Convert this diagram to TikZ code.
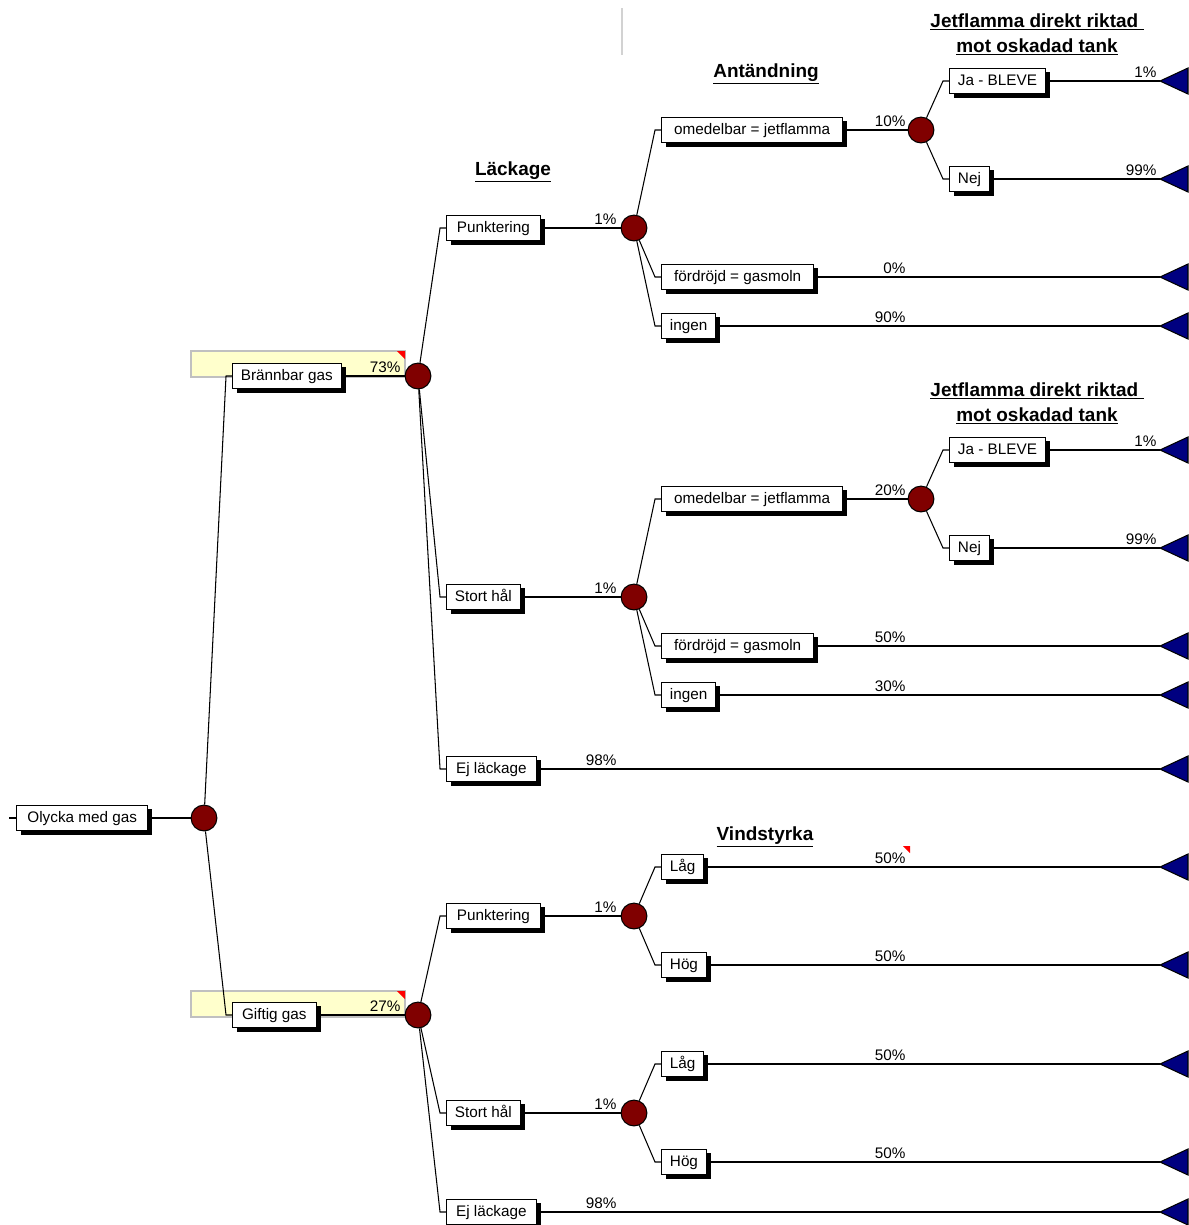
\documentclass[tikz,border=0pt]{standalone}
\usepackage{fontspec}
\setmainfont{Liberation Sans}
\usetikzlibrary{shadows}
\definecolor{chancered}{RGB}{128,0,0}
\definecolor{termblue}{RGB}{0,0,128}
\definecolor{notebar}{RGB}{255,255,204}
\definecolor{notegray}{RGB}{192,192,192}

\begin{document}
\begin{tikzpicture}[x=0.02cm,y=-0.02cm,line width=0.6pt,line join=miter,
  box/.style={draw,fill=white,anchor=west,font=\fontsize{8.7}{10}\selectfont,inner xsep=4.8pt,inner ysep=0pt,minimum height=14.7pt,text height=6.4pt,text depth=1.8pt,drop shadow={shadow xshift=2.5pt,shadow yshift=-2.5pt,fill=black,opacity=1}},
  chance/.style={circle,draw,fill=chancered,minimum size=14.7pt,inner sep=0pt},
  prob/.style={anchor=base east,inner sep=0pt,font=\fontsize{8.7}{10}\selectfont},
  head/.style={anchor=base,inner sep=0pt,font=\fontsize{10.8}{12}\selectfont\bfseries},
  term/.style={draw,fill=termblue},
  note/.style={draw=notegray,fill=notebar,line width=1pt},
  flag/.style={fill=red}]
\useasboundingbox (0,0) rectangle (1188,1225);
%\draw[gray] (0,0) grid[step=100] (1188,1225);
\draw[gray!35,line width=1.2pt] (622,8) -- (622,55);
% highlighted branches
\draw[note] (191,351) rectangle (405,377);
\fill[flag] (397,351) -- (405,351) -- (405,359) -- cycle;
\draw[note] (191,991) rectangle (405,1017);
\fill[flag] (397,991) -- (405,991) -- (405,999) -- cycle;
\fill[flag] (903,846) -- (910,846) -- (910,853) -- cycle;

% headings
\node[head] (lack) at (513,175) {\underline{Läckage}};
\node[head] (antand) at (766,77) {\underline{Antändning}};
\node[head] (jet1a) at (1037,27) {\underline{Jetflamma direkt riktad\ }};
\node[head] (jet1b) at (1037,52) {\underline{mot oskadad tank}};
\node[head] (jet2a) at (1037,396) {\underline{Jetflamma direkt riktad\ }};
\node[head] (jet2b) at (1037,421) {\underline{mot oskadad tank}};
\node[head] (vind) at (765,840) {\underline{Vindstyrka}};

% root
\coordinate (start) at (9,818);
\node[box,minimum width=74.8pt] (olycka) at (16,818) {Olycka med gas};
\node[chance] (r0) at (204,818) {};
\draw (start) -- (olycka);
\draw (olycka) -- (r0);

% gas
\node[box] (bran) at (232,376) {Brännbar gas};
\node[box,minimum width=47.6pt] (gift) at (232,1015) {Giftig gas};
\node[chance] (c1) at (418,376) {};
\node[chance] (c2) at (418,1015) {};
\draw (r0) -- ([xshift=-3.4pt]bran.west) -- (bran.west);
\draw (r0) -- ([xshift=-3.4pt]gift.west) -- (gift.west);
\draw (bran) -- (c1);
\draw (gift) -- (c2);
\node[prob] (p1) at (401,372) {73\%};
\node[prob] (p2) at (401,1011) {27\%};

% brannbar gas
\node[box,minimum width=53.3pt] (punk1) at (446,228) {Punktering};
\node[box] (hal1) at (446,597) {Stort hål};
\node[box,minimum width=51pt] (ej1) at (446,769) {Ej läckage};
\node[chance] (c11) at (634,228) {};
\node[chance] (c12) at (634,597) {};
\coordinate (t1) at (1160,769);
\draw (c1) -- ([xshift=-3.4pt]punk1.west) -- (punk1.west);
\draw (c1) -- ([xshift=-3.4pt]hal1.west) -- (hal1.west);
\draw (c1) -- ([xshift=-3.4pt]ej1.west) -- (ej1.west);
\draw (punk1) -- (c11);
\draw (hal1) -- (c12);
\draw (ej1) -- (t1);
\node[prob] (p11) at (617,224) {1\%};
\node[prob] (p12) at (617,593) {1\%};
\node[prob] (p13) at (617,765) {98\%};

% punktering
\node[box,minimum width=103.2pt] (omed1) at (661,130) {omedelbar = jetflamma};
\node[box,minimum width=86.7pt] (ford1) at (661,277) {fördröjd = gasmoln};
\node[box] (ingen1) at (661,326) {ingen};
\node[chance] (c111) at (921,130) {};
\coordinate (t2) at (1160,277);
\coordinate (t3) at (1160,326);
\draw (c11) -- ([xshift=-3.4pt]omed1.west) -- (omed1.west);
\draw (c11) -- ([xshift=-3.4pt]ford1.west) -- (ford1.west);
\draw (c11) -- ([xshift=-3.4pt]ingen1.west) -- (ingen1.west);
\draw (omed1) -- (c111);
\draw (ford1) -- (t2);
\draw (ingen1) -- (t3);
\node[prob] (p111) at (906,126) {10\%};
\node[prob] (p112) at (906,273) {0\%};
\node[prob] (p113) at (906,322) {90\%};
\draw[line width=1.2pt] ([xshift=1pt]p113.east |- ingen1) -- (t3);

\node[box] (ja1) at (949,81) {Ja - BLEVE};
\node[box] (nej1) at (949,179) {Nej};
\coordinate (t4) at (1160,81);
\coordinate (t5) at (1160,179);
\draw (c111) -- ([xshift=-3.4pt]ja1.west) -- (ja1.west);
\draw (c111) -- ([xshift=-3.4pt]nej1.west) -- (nej1.west);
\draw (ja1) -- (t4);
\draw (nej1) -- (t5);
\node[prob] (p1111) at (1157,77) {1\%};
\node[prob] (p1112) at (1157,175) {99\%};

% stort hal
\node[box,minimum width=103.2pt] (omed2) at (661,499) {omedelbar = jetflamma};
\node[box,minimum width=86.7pt] (ford2) at (661,646) {fördröjd = gasmoln};
\node[box] (ingen2) at (661,695) {ingen};
\node[chance] (c121) at (921,499) {};
\coordinate (t6) at (1160,646);
\coordinate (t7) at (1160,695);
\draw (c12) -- ([xshift=-3.4pt]omed2.west) -- (omed2.west);
\draw (c12) -- ([xshift=-3.4pt]ford2.west) -- (ford2.west);
\draw (c12) -- ([xshift=-3.4pt]ingen2.west) -- (ingen2.west);
\draw (omed2) -- (c121);
\draw (ford2) -- (t6);
\draw (ingen2) -- (t7);
\node[prob] (p121) at (906,495) {20\%};
\node[prob] (p122) at (906,642) {50\%};
\node[prob] (p123) at (906,691) {30\%};
\draw[line width=1.2pt] ([xshift=1pt]p123.east |- ingen2) -- (t7);

\node[box] (ja2) at (949,450) {Ja - BLEVE};
\node[box] (nej2) at (949,548) {Nej};
\coordinate (t8) at (1160,450);
\coordinate (t9) at (1160,548);
\draw (c121) -- ([xshift=-3.4pt]ja2.west) -- (ja2.west);
\draw (c121) -- ([xshift=-3.4pt]nej2.west) -- (nej2.west);
\draw (ja2) -- (t8);
\draw (nej2) -- (t9);
\node[prob] (p1211) at (1157,446) {1\%};
\node[prob] (p1212) at (1157,544) {99\%};

% giftig gas
\node[box,minimum width=53.3pt] (punk2) at (446,916) {Punktering};
\node[box] (hal2) at (446,1113) {Stort hål};
\node[box,minimum width=51pt] (ej2) at (446,1212) {Ej läckage};
\node[chance] (c21) at (634,916) {};
\node[chance] (c22) at (634,1113) {};
\coordinate (t10) at (1160,1212);
\draw (c2) -- ([xshift=-3.4pt]punk2.west) -- (punk2.west);
\draw (c2) -- ([xshift=-3.4pt]hal2.west) -- (hal2.west);
\draw (c2) -- ([xshift=-3.4pt]ej2.west) -- (ej2.west);
\draw (punk2) -- (c21);
\draw (hal2) -- (c22);
\draw (ej2) -- (t10);
\node[prob] (p21) at (617,912) {1\%};
\node[prob] (p22) at (617,1109) {1\%};
\node[prob] (p23) at (617,1208) {98\%};

\node[box] (lag1) at (661,867) {Låg};
\node[box] (hog1) at (661,965) {Hög};
\node[box] (lag2) at (661,1064) {Låg};
\node[box] (hog2) at (661,1162) {Hög};
\coordinate (t11) at (1160,867);
\coordinate (t12) at (1160,965);
\coordinate (t13) at (1160,1064);
\coordinate (t14) at (1160,1162);
\draw (c21) -- ([xshift=-3.4pt]lag1.west) -- (lag1.west);
\draw (c21) -- ([xshift=-3.4pt]hog1.west) -- (hog1.west);
\draw (c22) -- ([xshift=-3.4pt]lag2.west) -- (lag2.west);
\draw (c22) -- ([xshift=-3.4pt]hog2.west) -- (hog2.west);
\draw (lag1) -- (t11);
\draw (hog1) -- (t12);
\draw (lag2) -- (t13);
\draw (hog2) -- (t14);
\node[prob] (p211) at (906,863) {50\%};
\node[prob] (p212) at (906,961) {50\%};
\node[prob] (p221) at (906,1060) {50\%};
\node[prob] (p222) at (906,1158) {50\%};

% end points
\draw[term] (t1) -- ++(28,-13) -- ++(0,26) -- cycle;
\draw[term] (t2) -- ++(28,-13) -- ++(0,26) -- cycle;
\draw[term] (t3) -- ++(28,-13) -- ++(0,26) -- cycle;
\draw[term] (t4) -- ++(28,-13) -- ++(0,26) -- cycle;
\draw[term] (t5) -- ++(28,-13) -- ++(0,26) -- cycle;
\draw[term] (t6) -- ++(28,-13) -- ++(0,26) -- cycle;
\draw[term] (t7) -- ++(28,-13) -- ++(0,26) -- cycle;
\draw[term] (t8) -- ++(28,-13) -- ++(0,26) -- cycle;
\draw[term] (t9) -- ++(28,-13) -- ++(0,26) -- cycle;
\draw[term] (t10) -- ++(28,-13) -- ++(0,26) -- cycle;
\draw[term] (t11) -- ++(28,-13) -- ++(0,26) -- cycle;
\draw[term] (t12) -- ++(28,-13) -- ++(0,26) -- cycle;
\draw[term] (t13) -- ++(28,-13) -- ++(0,26) -- cycle;
\draw[term] (t14) -- ++(28,-13) -- ++(0,26) -- cycle;
\end{tikzpicture}
\end{document}
